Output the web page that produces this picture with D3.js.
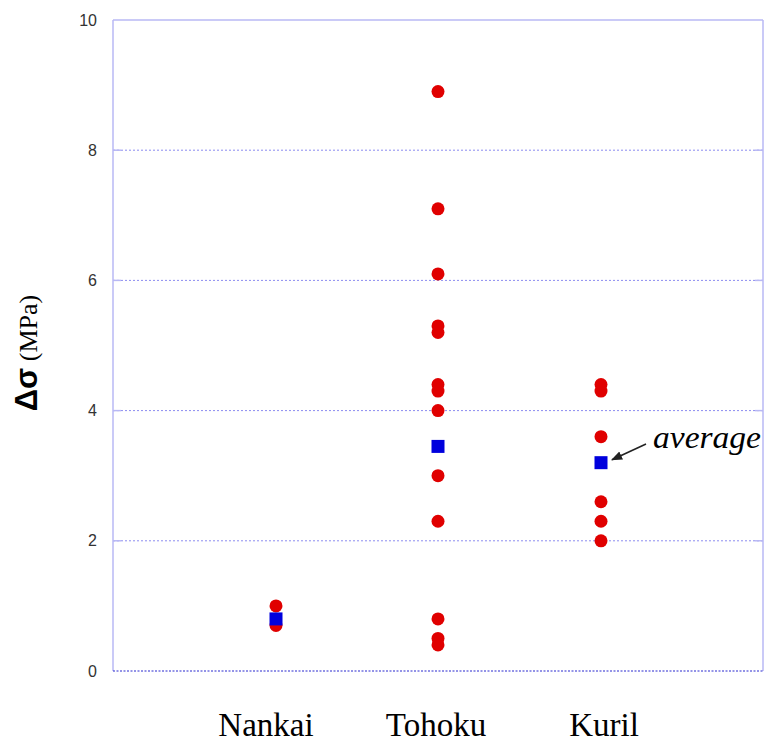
<!DOCTYPE html>
<html><head><meta charset="utf-8">
<script src="https://cdnjs.cloudflare.com/ajax/libs/d3/7.8.5/d3.min.js"></script>
<style>body{margin:0;background:#fff}</style>
</head><body>
<svg id="c" width="768" height="744"></svg>
<script>
const categories = ["Nankai", "Tohoku", "Kuril"];
const nankaiValues = [1.0, 0.7];
const tohokuValues = [8.9, 7.1, 6.1, 5.3, 5.2, 4.4, 4.3, 4.0, 3.0, 2.3, 0.8, 0.5, 0.4];
const kurilValues = [4.4, 4.3, 3.6, 2.6, 2.3, 2.0];
const averages = [0.8, 3.45, 3.2];
const yTicks = [0, 2, 4, 6, 8, 10];

const seriesValues = [nankaiValues, tohokuValues, kurilValues];
const svg = d3.select("#c");
const L = 113, R = 763, T = 20, B = 671;
const x = d3.scaleOrdinal().domain(categories).range([276, 438, 601]);
const xLab = d3.scaleOrdinal().domain(categories).range([266, 436, 604]);
const y = d3.scaleLinear().domain([0, 10]).range([B, T]);
const inner = yTicks.filter(t => t > 0 && t < 10);

// gridlines
svg.append("g").selectAll("line").data(inner).join("line")
  .attr("x1", L).attr("x2", R).attr("y1", d => y(d)).attr("y2", d => y(d))
  .attr("stroke", "#8c8cf0").attr("stroke-width", 1).attr("stroke-dasharray", "2,2");
// frame
const fc = "#b8b8f4";
svg.append("line").attr("x1", L).attr("x2", R).attr("y1", T).attr("y2", T).attr("stroke", fc).attr("stroke-width", 1.5);
svg.append("line").attr("x1", L).attr("x2", L).attr("y1", T).attr("y2", B).attr("stroke", fc).attr("stroke-width", 1.5);
svg.append("line").attr("x1", R).attr("x2", R).attr("y1", T).attr("y2", B).attr("stroke", fc).attr("stroke-width", 1.5);
svg.append("line").attr("x1", L).attr("x2", R).attr("y1", B).attr("y2", B).attr("stroke", "#2a2ad0").attr("stroke-width", 1.2).attr("stroke-dasharray", "2,1.5");
// small ticks inside both sides
svg.append("g").selectAll("line").data(inner).join("line")
  .attr("x1", R - 8).attr("x2", R).attr("y1", d => y(d)).attr("y2", d => y(d))
  .attr("stroke", fc).attr("stroke-width", 1.5);
svg.append("g").selectAll("line").data(inner).join("line")
  .attr("x1", L).attr("x2", L + 8).attr("y1", d => y(d)).attr("y2", d => y(d))
  .attr("stroke", fc).attr("stroke-width", 1.5);

// y tick labels
const yAxis = d3.axisLeft(y).tickValues(yTicks).tickSize(0).tickPadding(16).tickFormat(d3.format("d"));
const ga = svg.append("g").attr("transform", `translate(${L},0)`).call(yAxis);
ga.select(".domain").remove();
ga.selectAll("text").attr("font-family", "Liberation Sans, Arial, sans-serif").attr("font-size", 16).attr("fill", "#333");

// y label
const yl = svg.append("text").attr("transform", "translate(37,353) rotate(-90)").attr("text-anchor", "middle");
yl.append("tspan").text("Δσ").attr("font-family", "Liberation Sans, Arial, sans-serif").attr("font-weight", "bold").attr("font-size", 31);
yl.append("tspan").text(" (MPa)").attr("font-family", "Liberation Serif, Times New Roman, serif").attr("font-size", 26);

// category labels
svg.append("g").selectAll("text").data(categories).join("text")
  .attr("x", d => xLab(d)).attr("y", 736).attr("text-anchor", "middle")
  .attr("font-family", "Liberation Serif, Times New Roman, serif").attr("font-size", 33).attr("fill", "#000")
  .text(d => d);

// points
const pts = categories.flatMap((c, i) => seriesValues[i].map(v => ({c, v})));
svg.append("g").selectAll("circle").data(pts).join("circle")
  .attr("cx", d => x(d.c)).attr("cy", d => y(d.v)).attr("r", 6.5).attr("fill", "#e00000");
// averages
const sq = 13;
svg.append("g").selectAll("rect").data(categories.map((c, i) => ({c, v: averages[i]}))).join("rect")
  .attr("x", d => x(d.c) - sq / 2).attr("y", d => y(d.v) - sq / 2).attr("width", sq).attr("height", sq).attr("fill", "#0000dd");

// annotation
svg.append("defs").append("marker").attr("id", "ah").attr("viewBox", "0 0 10 10").attr("refX", 9).attr("refY", 5)
  .attr("markerWidth", 7).attr("markerHeight", 7).attr("orient", "auto-start-reverse")
  .append("path").attr("d", "M0,1 L10,5 L0,9 Z").attr("fill", "#222");
svg.append("line").attr("x1", 646).attr("y1", 444).attr("x2", x("Kuril") + 11).attr("y2", y(averages[2]) - 3)
  .attr("stroke", "#222").attr("stroke-width", 1.6).attr("marker-end", "url(#ah)");
svg.append("text").attr("x", 653).attr("y", 448).text("average")
  .attr("textLength", 108).attr("lengthAdjust", "spacingAndGlyphs")
  .attr("font-family", "Liberation Serif, Times New Roman, serif").attr("font-style", "italic").attr("font-size", 31).attr("fill", "#000");
</script>
</body></html>
